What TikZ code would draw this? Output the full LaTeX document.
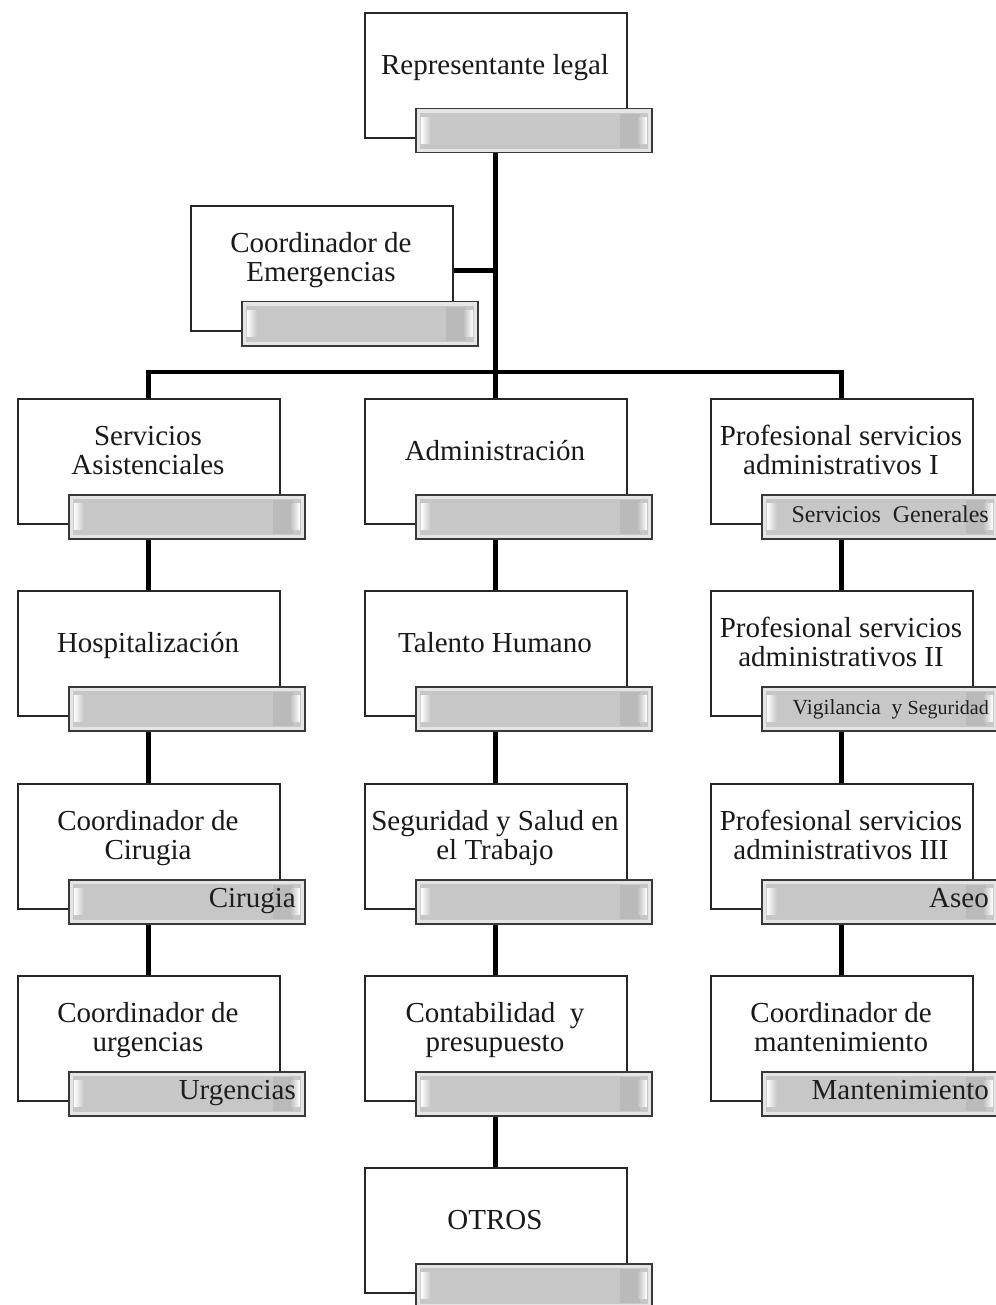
\documentclass[tikz,border=0pt]{standalone}
\usepackage{fontspec}
\setmainfont{Liberation Serif}
\newcommand{\TopStrut}{\rule{0pt}{25pt}}
\newcommand{\BotStrut}{\rule[-6.5pt]{0pt}{0pt}}
\begin{document}
\begin{tikzpicture}[x=1pt,y=-1pt,
  conn/.style={line width=4.8pt, black},
  unitbox/.style={draw=black!85, line width=1.7pt, fill=white, minimum width=262pt, minimum height=125pt, inner sep=0pt},
  unittext/.style={align=center, inner sep=0pt, text=black!90, font=\fontsize{29}{29}\selectfont},
  unitbar/.style={draw=black!78, line width=1.5pt, fill=black!10, minimum width=236pt, minimum height=44pt, inner sep=0pt,
    path picture={
      \fill[black!22] ([shift={(4pt,-4pt)}]path picture bounding box.north west) rectangle ([shift={(-4pt,4pt)}]path picture bounding box.south east);
      \fill[black!27] ([shift={(-32pt,-5pt)}]path picture bounding box.north east) rectangle ([shift={(-12pt,5pt)}]path picture bounding box.south east);
      \shade[left color=white, right color=black!22] ([shift={(5pt,-9pt)}]path picture bounding box.north west) rectangle ([shift={(15pt,9pt)}]path picture bounding box.south west);
      \shade[right color=white, left color=black!27] ([shift={(-5pt,-9pt)}]path picture bounding box.north east) rectangle ([shift={(-15pt,9pt)}]path picture bounding box.south east);
    }},
  bartext/.style={inner sep=0pt, text=black!88, font=\fontsize{29}{29}\selectfont}
]
\useasboundingbox (0,0) rectangle (995,1305);
\fill[white] (0,0) rectangle (995,1305);

\newcommand{\OrgUnit}[6]{%
  \node[unitbox, anchor=north west] (#1) at (#2,#3) {};
  \node[unittext] (#1-t) at (#2+131,#3+53) {\TopStrut#4\BotStrut};
  \node[unitbar, anchor=north west] (#1-b) at (#2+51,#3+96) {};
  \node[bartext, anchor=base east] (#1-l) at (#2+51+236-8,#3+96+28) {#6#5};
}

% top and emergencias
\OrgUnit{top}{364}{12}{Representante legal}{}{}
\OrgUnit{eme}{190}{205}{Coordinador de\\Emergencias}{}{}

% row 1
\OrgUnit{sa}{17}{398}{Servicios\\Asistenciales}{}{}
\OrgUnit{adm}{364}{398}{Administración}{}{}
\OrgUnit{psa1}{710}{398}{Profesional servicios\\administrativos I}{Servicios\ \ Generales}{\fontsize{24}{25}\selectfont}

% row 2
\OrgUnit{hos}{17}{590}{Hospitalización}{}{}
\OrgUnit{th}{364}{590}{Talento Humano}{}{}
\OrgUnit{psa2}{710}{590}{Profesional servicios\\administrativos II}{Vigilancia\ \ y {\fontsize{20}{21}\selectfont Seguridad}}{\fontsize{21.5}{22}\selectfont}

% row 3
\OrgUnit{cc}{17}{783}{Coordinador de\\Cirugia}{Cirugia}{}
\OrgUnit{sst}{364}{783}{Seguridad y Salud en\\el Trabajo}{}{}
\OrgUnit{psa3}{710}{783}{Profesional servicios\\administrativos III}{Aseo}{}

% row 4
\OrgUnit{cu}{17}{975}{Coordinador de\\urgencias}{Urgencias}{}
\OrgUnit{cp}{364}{975}{Contabilidad\ \ y\\presupuesto}{}{}
\OrgUnit{cm}{710}{975}{Coordinador de\\mantenimiento}{Mantenimiento}{}

% row 5
\OrgUnit{otros}{364}{1167}{OTROS}{}{}

% connectors
\coordinate (bus) at (top.north |- 0,372);
\draw[conn] (top.north |- top-b.south) -- (adm.north);
\draw[conn] ([yshift=-2pt]eme.east) -- ([yshift=-2pt]eme.east -| top.north);
\draw[conn] (sa.north) |- (bus) -| (psa1.north);

\draw[conn] (sa.north |- sa-b.south) -- (hos.north);
\draw[conn] (hos.north |- hos-b.south) -- (cc.north);
\draw[conn] (cc.north |- cc-b.south) -- (cu.north);

\draw[conn] (adm.north |- adm-b.south) -- (th.north);
\draw[conn] (th.north |- th-b.south) -- (sst.north);
\draw[conn] (sst.north |- sst-b.south) -- (cp.north);
\draw[conn] (cp.north |- cp-b.south) -- (otros.north);

\draw[conn] (psa1.north |- psa1-b.south) -- (psa2.north);
\draw[conn] (psa2.north |- psa2-b.south) -- (psa3.north);
\draw[conn] (psa3.north |- psa3-b.south) -- (cm.north);
\end{tikzpicture}
\end{document}
